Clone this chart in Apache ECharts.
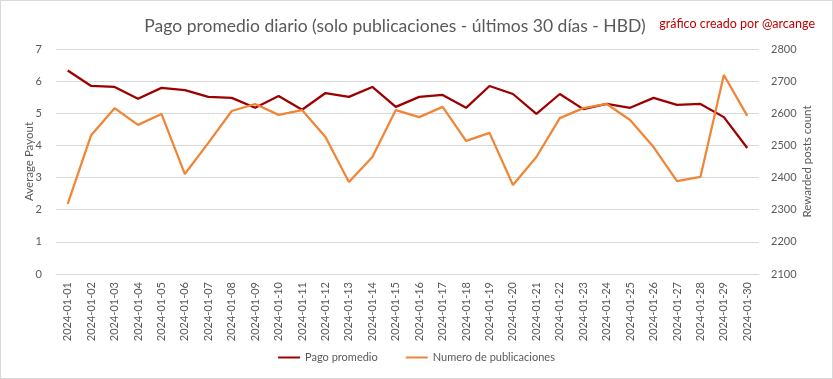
<!DOCTYPE html>
<html><head><meta charset="utf-8">
<script src="https://cdn.jsdelivr.net/npm/echarts@6/dist/echarts.min.js"></script>
<style>html,body{margin:0;padding:0;background:#fff;}#c{width:831px;height:377px;border:1px solid #d9d9d9;}</style>
</head><body><div id="c"></div>
<script>
const categories = ["2024-01-01","2024-01-02","2024-01-03","2024-01-04","2024-01-05","2024-01-06","2024-01-07","2024-01-08","2024-01-09","2024-01-10","2024-01-11","2024-01-12","2024-01-13","2024-01-14","2024-01-15","2024-01-16","2024-01-17","2024-01-18","2024-01-19","2024-01-20","2024-01-21","2024-01-22","2024-01-23","2024-01-24","2024-01-25","2024-01-26","2024-01-27","2024-01-28","2024-01-29","2024-01-30"];
const pagoPromedio = [6.33,5.85,5.82,5.45,5.79,5.72,5.51,5.48,5.17,5.54,5.11,5.63,5.51,5.82,5.20,5.51,5.57,5.17,5.85,5.60,4.98,5.60,5.13,5.29,5.17,5.48,5.26,5.29,4.88,3.92];
const numeroPublicaciones = [2318,2532,2616,2564,2598,2411,2508,2607,2629,2595,2610,2526,2386,2464,2610,2588,2620,2514,2539,2377,2464,2585,2616,2629,2579,2495,2389,2402,2719,2592];
const FONT = 'Lato';
const chart = echarts.init(document.getElementById('c'), null, {renderer:'canvas'});
chart.setOption({
  animation:false,
  textStyle:{fontFamily:FONT},
  title:[
    {text:'Pago promedio diario (solo publicaciones - últimos 30 días - HBD)', left:389, top:11, textAlign:'center',
     textStyle:{fontFamily:FONT, fontSize:17.5, fontWeight:'normal', color:'#595959'}},
    {text:'gráfico creado por @arcange', right:12, top:11,
     textStyle:{fontFamily:FONT, fontSize:12.5, fontWeight:'normal', color:'#c00000'}}
  ],
  legend:{bottom:10, left:'center', itemWidth:22, itemHeight:2, itemGap:28, icon:'rect',
    textStyle:{fontFamily:FONT, fontSize:11, color:'#595959'},
    data:['Pago promedio','Numero de publicaciones']},
  grid:{left:55, right:73, top:48, bottom:104},
  xAxis:{type:'category', data:categories, boundaryGap:true,
    axisLine:{lineStyle:{color:'#d9d9d9'}}, axisTick:{show:false},
    axisLabel:{rotate:90, fontSize:11, color:'#595959', interval:0, margin:8}},
  yAxis:[
    {type:'value', min:0, max:7, interval:1, name:'Average Payout', nameLocation:'middle', nameGap:21, nameMoveOverlap:false,
     nameTextStyle:{fontSize:11.5, color:'#595959'},
     axisLabel:{fontSize:11, color:'#595959', margin:14}, axisLine:{show:false}, axisTick:{show:false},
     splitLine:{lineStyle:{color:'#d9d9d9'}}},
    {type:'value', min:2100, max:2800, interval:100, name:'Rewarded posts count', nameLocation:'middle', nameGap:42, nameMoveOverlap:false,
     nameTextStyle:{fontSize:11.5, color:'#595959'}, nameRotate:90,
     axisLabel:{fontSize:11, color:'#595959', margin:12, formatter:v => String(v)}, axisLine:{show:false}, axisTick:{show:false},
     splitLine:{show:false}}
  ],
  series:[
    {name:'Pago promedio', type:'line', yAxisIndex:0, data:pagoPromedio, symbol:'none',
     lineStyle:{color:'#9e0000', width:2.25}, itemStyle:{color:'#9e0000'}},
    {name:'Numero de publicaciones', type:'line', yAxisIndex:1, data:numeroPublicaciones, symbol:'none',
     lineStyle:{color:'#f08536', width:2.25}, itemStyle:{color:'#f08536'}}
  ]
});
</script></body></html>
